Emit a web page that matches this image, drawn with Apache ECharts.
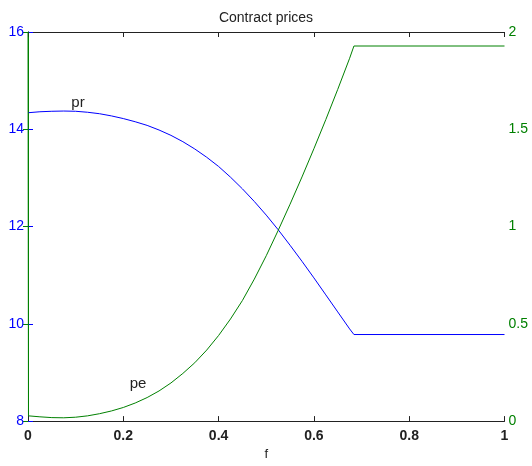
<!DOCTYPE html>
<html>
<head>
<meta charset="utf-8">
<script src="https://cdn.jsdelivr.net/npm/echarts@6/dist/echarts.min.js"></script>
<style>
  html, body { margin: 0; padding: 0; background: #fff; }
  #main { width: 532px; height: 466px; }
</style>
</head>
<body>
<div id="main"></div>
<script>
// values
var fVals  = [0, 0.001, 0.025, 0.05, 0.075, 0.1, 0.125, 0.15, 0.175, 0.2, 0.225, 0.25, 0.275, 0.3, 0.325, 0.35,
              0.375, 0.4, 0.425, 0.45, 0.475, 0.5, 0.525, 0.55, 0.575, 0.6, 0.625, 0.65, 0.675, 0.684, 1];
var prVals = [14.34, 14.34, 14.36, 14.37, 14.375, 14.37, 14.35, 14.32, 14.275, 14.22, 14.155, 14.08, 13.985, 13.875, 13.745, 13.595,
              13.425, 13.235, 13.015, 12.775, 12.515, 12.235, 11.935, 11.615, 11.285, 10.945, 10.595, 10.245, 9.895, 9.78, 9.78];
var peVals = [2, 0.027, 0.022, 0.018, 0.017, 0.02, 0.027, 0.038, 0.052, 0.07, 0.093, 0.121, 0.155, 0.196, 0.245, 0.30,
              0.365, 0.44, 0.525, 0.62, 0.73, 0.85, 0.98, 1.115, 1.255, 1.40, 1.55, 1.705, 1.865, 1.928, 1.928];
var xTicks = [0, 0.2, 0.4, 0.6, 0.8, 1];

var blue = '#0000ff';
var green = '#008000';
var font = 'Liberation Sans, Arial, sans-serif';

function pairs(ys) {
  var out = [];
  for (var i = 0; i < fVals.length; i++) out.push([fVals[i], ys[i]]);
  return out;
}

var myChart = echarts.init(document.getElementById('main'));

var option = {
  animation: false,
  backgroundColor: '#fff',
  title: {
    text: 'Contract prices',
    left: 'center',
    top: 6,
    textStyle: { fontFamily: font, fontSize: 14, fontWeight: 'normal', color: '#222' }
  },
  grid: { left: 28, right: 27.5, top: 32, bottom: 43.5 },
  xAxis: [{
    type: 'value',
    min: 0, max: 1, interval: 0.2,
    name: 'f', nameLocation: 'middle', nameGap: 26,
    nameTextStyle: { fontFamily: font, fontSize: 13, color: '#222' },
    axisLine: { lineStyle: { color: '#222', width: 1 } },
    axisTick: { inside: true, length: 5, lineStyle: { color: '#222' } },
    axisLabel: {
      fontFamily: font, fontSize: 14, fontWeight: 'bold', color: '#222', margin: 8,
      formatter: function (v) { return xTicks.indexOf(Math.round(v * 10) / 10) >= 0 ? String(Math.round(v * 10) / 10) : ''; }
    },
    splitLine: { show: false }
  }, {
    type: 'value',
    position: 'top',
    min: 0, max: 1, interval: 0.2,
    axisLine: { lineStyle: { color: '#222', width: 1 } },
    axisTick: { inside: true, length: 5, lineStyle: { color: '#222' } },
    axisLabel: { show: false },
    splitLine: { show: false }
  }],
  yAxis: [{
    type: 'value',
    position: 'left',
    min: 8, max: 16, interval: 2,
    axisLine: { show: true, lineStyle: { color: blue, width: 1 } },
    axisTick: { show: true, inside: true, length: 5, lineStyle: { color: blue } },
    axisLabel: { fontFamily: font, fontSize: 14, color: blue, margin: 4 },
    splitLine: { show: false }
  }, {
    type: 'value',
    position: 'right',
    min: 0, max: 2, interval: 0.5,
    axisLine: { show: true, lineStyle: { color: green, width: 1 } },
    axisTick: { show: true, inside: true, length: 5, lineStyle: { color: green } },
    axisLabel: { fontFamily: font, fontSize: 14, color: green, margin: 4 },
    splitLine: { show: false }
  }],
  series: [{
    name: 'pr',
    type: 'line',
    yAxisIndex: 0,
    data: pairs(prVals),
    showSymbol: false,
    lineStyle: { color: blue, width: 1 },
    markPoint: {
      symbol: 'circle', symbolSize: 0,
      label: { show: true, formatter: 'pr', fontFamily: font, fontSize: 15, color: '#222' },
      data: [{ coord: [0.105, 14.55] }]
    }
  }, {
    name: 'pe',
    type: 'line',
    yAxisIndex: 1,
    data: pairs(peVals),
    showSymbol: false,
    lineStyle: { color: green, width: 1 },
    markPoint: {
      symbol: 'circle', symbolSize: 0,
      label: { show: true, formatter: 'pe', fontFamily: font, fontSize: 15, color: '#222' },
      data: [{ coord: [0.231, 0.19] }]
    }
  }]
};

myChart.setOption(option);
</script>
</body>
</html>
